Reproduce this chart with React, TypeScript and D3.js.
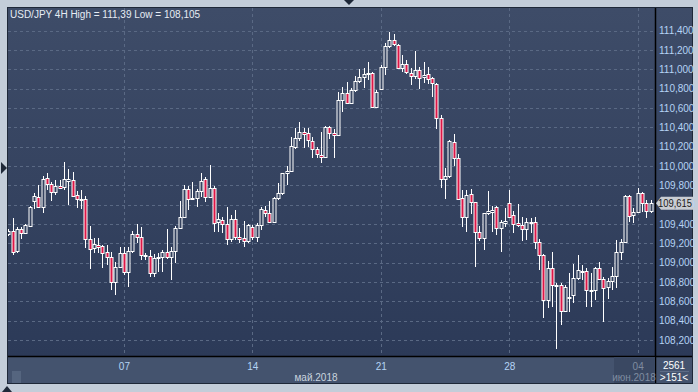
import React from "react";
import * as d3 from "d3";

const TITLE = "USD/JPY 4H  High = 111,39 Low = 108,105";
const LAST_PRICE = 109.615;
const BAR_COUNT_LABEL = "2561";
const VISIBLE_LABEL = ">151<";

// candle index for each week tick
const weekTickIndex = [27, 57, 87, 117, 147];
const weekTickLabels = ["07", "14", "21", "28", "04"];
const monthLabels = ["май.2018", "июн.2018"];
const yTicks = [108.2, 108.4, 108.6, 108.8, 109.0, 109.2, 109.4, 109.6, 109.8, 110.0, 110.2, 110.4, 110.6, 110.8, 111.0, 111.2, 111.4];

const opens = [
  109.298, 109.332, 109.125, 109.349, 109.308, 109.380, 109.642, 109.683, 109.580, 109.877,
  109.815, 109.735, 109.797, 109.787, 109.849, 109.856, 109.701, 109.660, 109.656, 109.249,
  109.153, 109.187, 109.173, 109.108, 109.056, 108.804, 108.959, 109.101, 108.907, 109.125,
  109.298, 109.263, 109.080, 109.073, 108.897, 109.046, 109.063, 109.111, 109.056, 109.125,
  109.356, 109.470, 109.760, 109.656, 109.667, 109.742, 109.863, 109.677, 109.770, 109.421,
  109.442, 109.398, 109.243, 109.449, 109.270, 109.253, 109.228, 109.373, 109.263, 109.391,
  109.546, 109.512, 109.425, 109.667, 109.718, 109.925, 109.952, 110.200, 110.287, 110.356,
  110.339, 110.263, 110.174, 110.115, 110.091, 110.401, 110.339, 110.321, 110.684, 110.759,
  110.649, 110.787, 110.883, 110.918, 110.952, 110.960, 110.614, 110.800, 111.028, 111.245,
  111.304, 111.252, 111.018, 111.053, 110.960, 110.935, 110.994, 110.918, 110.949, 110.914,
  110.846, 110.494, 109.866, 109.900, 110.246, 110.080, 109.667, 109.477, 109.711, 109.632,
  109.321, 109.253, 109.518, 109.528, 109.574, 109.356, 109.408, 109.621, 109.494, 109.408,
  109.391, 109.346, 109.408, 109.418, 109.211, 109.080, 108.615, 108.943, 108.759, 108.770,
  108.504, 108.643, 108.667, 108.839, 108.908, 108.918, 108.708, 108.718, 108.943, 108.832,
  108.746, 108.815, 108.866, 109.114, 109.218, 109.691, 109.494, 109.528, 109.725, 109.621,
  109.539,
];
const highs = [
  109.349, 109.463, 109.370, 109.370, 109.401, 109.587, 109.722, 109.804, 109.897, 109.928,
  109.835, 109.856, 109.856, 110.042, 109.970, 109.942, 109.745, 109.753, 109.691, 109.380,
  109.256, 109.256, 109.184, 109.184, 109.111, 109.008, 109.163, 109.163, 109.163, 109.332,
  109.401, 109.373, 109.104, 109.132, 109.091, 109.101, 109.132, 109.349, 109.163, 109.380,
  109.642, 109.804, 109.794, 109.838, 109.763, 109.928, 109.890, 110.011, 109.794, 109.515,
  109.473, 109.577, 109.494, 109.546, 109.360, 109.435, 109.401, 109.391, 109.411, 109.580,
  109.587, 109.642, 109.683, 109.822, 109.932, 110.001, 110.298, 110.391, 110.453, 110.391,
  110.391, 110.298, 110.200, 110.350, 110.415, 110.415, 110.380, 110.769, 110.815, 110.873,
  110.805, 110.932, 111.001, 111.011, 111.073, 110.970, 110.787, 111.046, 111.270, 111.390,
  111.363, 111.260, 111.149, 111.097, 111.011, 111.190, 111.028, 111.080, 111.028, 110.924,
  110.856, 110.528, 109.983, 110.270, 110.332, 110.125, 109.753, 109.753, 109.760, 109.632,
  109.380, 109.518, 109.745, 109.587, 109.587, 109.442, 109.563, 109.753, 109.539, 109.608,
  109.470, 109.460, 109.460, 109.477, 109.243, 109.091, 109.021, 109.114, 108.788, 108.794,
  108.770, 108.891, 108.987, 109.080, 108.977, 108.946, 108.891, 108.953, 109.011, 108.856,
  108.839, 108.953, 109.235, 109.243, 109.701, 109.701, 109.563, 109.770, 109.735, 109.649,
  109.649,
];
const lows = [
  109.277, 109.080, 109.101, 109.246, 109.298, 109.370, 109.556, 109.566, 109.518, 109.753,
  109.642, 109.701, 109.766, 109.753, 109.597, 109.683, 109.566, 109.556, 109.153, 108.935,
  109.104, 109.101, 108.946, 108.977, 108.718, 108.667, 108.956, 108.873, 108.752, 109.101,
  109.204, 109.029, 109.029, 108.856, 108.853, 108.907, 108.904, 109.042, 108.822, 108.998,
  109.349, 109.463, 109.546, 109.649, 109.580, 109.683, 109.632, 109.667, 109.321, 109.321,
  109.305, 109.184, 109.218, 109.235, 109.208, 109.160, 109.201, 109.235, 109.215, 109.339,
  109.477, 109.414, 109.414, 109.649, 109.701, 109.804, 109.942, 110.174, 110.260, 110.190,
  110.200, 110.087, 110.080, 110.035, 110.080, 110.277, 110.080, 110.311, 110.563, 110.642,
  110.642, 110.769, 110.856, 110.805, 110.890, 110.604, 110.604, 110.839, 110.942, 111.218,
  111.245, 111.011, 110.976, 110.949, 110.839, 110.901, 110.797, 110.856, 110.846, 110.717,
  110.383, 109.770, 109.660, 109.880, 110.001, 109.649, 109.367, 109.321, 109.504, 108.953,
  109.228, 109.132, 109.494, 109.321, 109.287, 109.114, 109.373, 109.460, 109.311, 109.367,
  109.228, 109.235, 109.311, 109.139, 108.925, 108.425, 108.529, 108.539, 108.105, 108.356,
  108.490, 108.494, 108.581, 108.822, 108.822, 108.539, 108.539, 108.615, 108.822, 108.390,
  108.622, 108.718, 108.736, 109.029, 109.201, 109.425, 109.414, 109.528, 109.528, 109.460,
  109.511,
];
const closes = [
  109.332, 109.114, 109.349, 109.308, 109.391, 109.577, 109.691, 109.580, 109.866, 109.815,
  109.732, 109.797, 109.776, 109.866, 109.866, 109.691, 109.660, 109.656, 109.249, 109.139,
  109.194, 109.166, 109.104, 109.056, 108.804, 108.959, 109.104, 108.907, 109.125, 109.298,
  109.263, 109.080, 109.073, 108.897, 109.046, 109.063, 109.111, 109.056, 109.125, 109.356,
  109.470, 109.760, 109.656, 109.667, 109.742, 109.849, 109.677, 109.770, 109.414, 109.449,
  109.398, 109.243, 109.449, 109.263, 109.243, 109.228, 109.391, 109.263, 109.391, 109.553,
  109.518, 109.425, 109.667, 109.718, 109.925, 109.952, 110.208, 110.287, 110.350, 110.329,
  110.270, 110.174, 110.122, 110.091, 110.407, 110.339, 110.321, 110.684, 110.759, 110.649,
  110.787, 110.883, 110.918, 110.952, 110.966, 110.614, 110.769, 111.028, 111.245, 111.304,
  111.260, 111.018, 111.053, 110.970, 110.935, 110.994, 110.908, 110.942, 110.901, 110.856,
  110.494, 109.866, 109.900, 110.260, 110.080, 109.656, 109.477, 109.701, 109.632, 109.321,
  109.253, 109.512, 109.539, 109.546, 109.356, 109.425, 109.432, 109.477, 109.401, 109.387,
  109.346, 109.425, 109.418, 109.211, 109.080, 108.615, 108.943, 108.770, 108.770, 108.504,
  108.752, 108.649, 108.839, 108.925, 108.918, 108.718, 108.718, 108.943, 108.829, 108.736,
  108.815, 108.866, 109.114, 109.218, 109.691, 109.484, 109.528, 109.725, 109.621, 109.539,
  109.615,
];

const W = 698;
const H = 392;
const PL = 8;
const PR = 655;
const PT = 8;
const PB = 356;
const AXB = 383;
const AXR = 692;

const fmt = (v: number, d: number) => v.toFixed(d).replace(".", ",");

export default function App() {
  const x = d3.scaleLinear().domain([0, 150]).range([8.3, 650.5]);
  const y = d3.scaleLinear().domain([108.2, 111.4]).range([340, 30.7]);
  const red = "#dc1747";
  const font = "'Liberation Sans', Arial, sans-serif";
  const candles = opens.map((o, i) => ({ o, h: highs[i], l: lows[i], c: closes[i], i }));
  const lastY = y(LAST_PRICE);

  return (
    <svg width={W} height={H} style={{ position: "absolute", left: 0, top: 0 }}>
      <defs>
        <linearGradient id="bg" x1="0" y1={PT} x2="0" y2={PB} gradientUnits="userSpaceOnUse">
          <stop offset="0" stopColor="#3e4c68" />
          <stop offset="1" stopColor="#2c3a58" />
        </linearGradient>
        <clipPath id="plot">
          <rect x={PL} y={PT} width={PR - PL} height={PB - PT} />
        </clipPath>
      </defs>
      <rect x={0} y={0} width={W} height={H} fill="#c3cdd9" />
      <rect x={PL - 1} y={PT - 1} width={AXR - PL + 2} height={AXB - PT + 2} fill="#1e2838" />
      <rect x={PL} y={PT} width={AXR - PL} height={PB - PT} fill="url(#bg)" />
      <rect x={PL} y={PB + 1} width={AXR - PL} height={AXB - PB - 1} fill="#44536e" />
      {/* grid */}
      <g stroke="#5a6984" strokeWidth={1} strokeDasharray="3,3" clipPath="url(#plot)">
        {yTicks.map((t) => (
          <line key={t} x1={PL} x2={PR} y1={Math.round(y(t)) + 0.5} y2={Math.round(y(t)) + 0.5} />
        ))}
        {weekTickIndex.map((t) => (
          <line key={t} x1={Math.round(x(t)) + 0.5} x2={Math.round(x(t)) + 0.5} y1={PT} y2={PB} />
        ))}
      </g>
      {/* candles */}
      <g clipPath="url(#plot)">
        {candles.map((d) => {
          const cx = Math.round(x(d.i));
          const top = Math.round(y(Math.max(d.o, d.c)));
          const bot = Math.round(y(Math.min(d.o, d.c)));
          const up = d.c >= d.o;
          return (
            <g key={d.i}>
              <line x1={cx + 0.5} x2={cx + 0.5} y1={Math.round(y(d.h))} y2={Math.round(y(d.l))} stroke="#ffffff" strokeWidth={1} />
              <rect
                x={cx - 1}
                y={top + 0.5}
                width={3}
                height={Math.max(bot - top, 1)}
                fill={up ? "url(#bg)" : red}
                stroke="#ffffff"
                strokeWidth={1}
              />
            </g>
          );
        })}
      </g>
      {/* separators */}
      <line x1={PR + 0.5} x2={PR + 0.5} y1={PT} y2={AXB} stroke="#000" strokeWidth={1.5} />
      <line x1={PL} x2={AXR} y1={PB + 0.5} y2={PB + 0.5} stroke="#000" strokeWidth={1.5} />
      {/* y labels */}
      <g fontFamily={font} fontSize={10} fill="#b5d3f5">
        {yTicks.map((t) => (
          <text key={t} x={659} y={y(t) + 3.5}>{fmt(t, 3)}</text>
        ))}
      </g>
      {/* last price marker */}
      <path
        d={`M${PR + 1},${lastY} L${PR + 6},${lastY - 6.5} L${AXR + 1},${lastY - 6.5} L${AXR + 1},${lastY + 6.5} L${PR + 6},${lastY + 6.5} Z`}
        fill="#c9cdd3"
      />
      <text x={658} y={lastY + 3.5} fontFamily={font} fontSize={10} fill="#1a1a1a" textLength={34} lengthAdjust="spacingAndGlyphs">{fmt(LAST_PRICE, 3)}</text>
      {/* x axis */}
      <rect x={614} y={PB + 1} width={PR - 614} height={AXB - PB - 1} fill="#3a4862" />
      <rect x={12} y={371} width={9} height={12} fill="#55657f" />
      <g fontFamily={font} fontSize={10} textAnchor="middle">
        {weekTickIndex.map((t, k) => (
          <text key={t} x={x(t) + 0.5} y={370} fill={k === 4 ? "#7f8ca0" : "#b5d3f5"}>{weekTickLabels[k]}</text>
        ))}
      </g>
      <text x={316} y={381} fontFamily={font} fontSize={10} textAnchor="middle" fill="#c9d3df">{monthLabels[0]}</text>
      <text x={634} y={381} fontFamily={font} fontSize={10} textAnchor="middle" fill="#7f8ca0">{monthLabels[1]}</text>
      <text x={674} y={369} fontFamily={font} fontSize={10} textAnchor="middle" fill="#ffffff">{BAR_COUNT_LABEL}</text>
      <line x1={660} x2={689} y1={371.5} y2={371.5} stroke="#5d6c86" />
      <text x={674} y={381} fontFamily={font} fontSize={10} textAnchor="middle" fill="#ffffff">{VISIBLE_LABEL}</text>
      {/* title */}
      <text x={10} y={18} fontFamily={font} fontSize={10} fill="#e6ecf4">{TITLE}</text>
      {/* nav arrows */}
      <path d="M344,0 L354,0 L349,5 Z" fill="#1e2838" />
      <path d="M1,162 L7,168 L1,174 Z" fill="#1e2838" />
      <path d="M2,392 L7,386 L12,392 Z" fill="#1e2838" />
    </svg>
  );
}
